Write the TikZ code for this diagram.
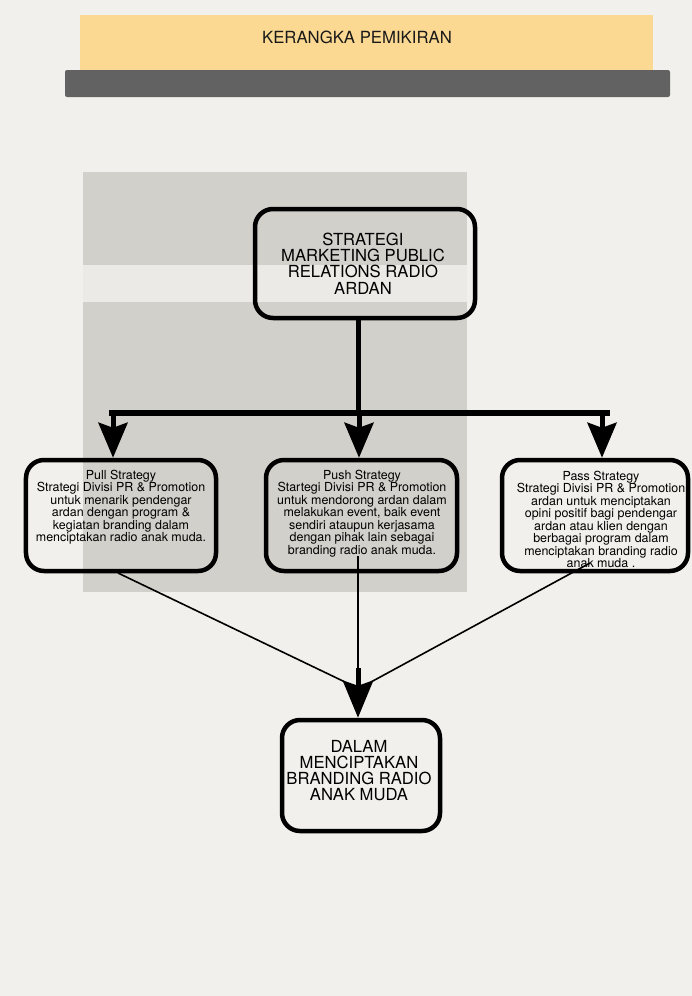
\documentclass[tikz,border=0pt]{standalone}
\usepackage{fontspec}
\setmainfont{TeX Gyre Heros}
\usetikzlibrary{arrows.meta,calc}
\definecolor{pagebg}{HTML}{F1F0EC}
\definecolor{bannerY}{HTML}{FCD993}
\definecolor{barG}{HTML}{626262}
\definecolor{greyR}{HTML}{D2D0CB}
\definecolor{bandC}{HTML}{EBEAE6}
\begin{document}
\begin{tikzpicture}[x=1bp,y=-1bp,
 box/.style={draw=black, line width=4.5bp, rounded corners=18bp, inner sep=0pt},
 txt/.style={align=center, inner sep=0pt, anchor=north, text=black},
 small/.style={font=\fontsize{12.5}{12.5}\selectfont},
 big/.style={font=\fontsize{16.7}{16.2}\selectfont},
 bigarrow/.style={-{Stealth[length=35bp,width=29bp,inset=5bp]}, line width=5bp},
 botarrow/.style={-{Stealth[length=37bp,width=30bp,inset=5bp]}, line width=5bp},
 thinline/.style={line width=1.6bp}
]
\useasboundingbox (0,0) rectangle (692,996);
\fill[pagebg] (0,0) rectangle (692,996);
% header
\fill[bannerY] (80,15) rectangle (653,70);
\fill[barG, rounded corners=2bp] (65,70) rectangle (670,97);
\node[font=\fontsize{16.8}{18}\selectfont, text=black!90, inner sep=0pt] (title) at (357,37) {KERANGKA PEMIKIRAN};
% grey panel
\fill[greyR] (83,172) rectangle (467,592);
\fill[bandC] (83,265) rectangle (467,302);
% boxes
\node[box, minimum width=220bp, minimum height=109bp] (top) at (365,263.5) {};
\node[txt, big] (toptxt) at (363,233) {STRATEGI\\MARKETING PUBLIC\\RELATIONS RADIO\\ARDAN};
\node[box, minimum width=190bp, minimum height=111bp] (left) at (121,515.5) {};
\node[txt, small] (lefttxt) at (121,470)
 {Pull Strategy\\Strategi Divisi PR \& Promotion\\untuk menarik pendengar\\ardan dengan program \&\\kegiatan branding dalam\\menciptakan radio anak muda.};
\node[box, minimum width=191bp, minimum height=111bp] (mid) at (361.5,515.5) {};
\node[txt, small] (midtxt) at (362,470)
 {Push Strategy\\Startegi Divisi PR \& Promotion\\untuk mendorong ardan dalam\\melakukan event, baik event\\sendiri ataupun kerjasama\\dengan pihak lain sebagai\\branding radio anak muda.};
\node[box, minimum width=186bp, minimum height=111bp] (right) at (595,515.5) {};
\node[txt, small] (righttxt) at (601,471)
 {Pass Strategy\\Strategi Divisi PR \& Promotion\\ardan untuk menciptakan\\opini positif bagi pendengar\\ardan atau klien dengan\\berbagai program dalam\\menciptakan branding radio\\anak muda .};
\node[box, minimum width=158bp, minimum height=111bp] (bottom) at (361,775.5) {};
\node[txt, big] (bottomtxt) at (359,740) {DALAM\\MENCIPTAKAN\\BRANDING RADIO\\ANAK MUDA};
% connectors
\coordinate (j) at (358,413);
\coordinate (bl) at (109,413);
\coordinate (br) at (610,413);
\coordinate (la) at (113,413);
\coordinate (ma) at (359,413);
\coordinate (ra) at (602,413);
\draw[line width=5bp] (top.south -| j) -- (j);
\draw[line width=6bp] (bl) -- (br);
\draw[bigarrow] (la) -- (la |- left.north);
\draw[bigarrow] (ma) -- (ma |- mid.north);
\draw[bigarrow] (ra) -- (ra |- right.north);
\coordinate (ms) at (358,556);
\coordinate (rs) at (590,563);
\coordinate (ls) at (118,573);
\coordinate (s1) at (358,668);
\coordinate (cl) at (345,682);
\coordinate (cr) at (371,682);
\draw[thinline] (ls) -- (cl);
\draw[thinline] (rs) -- (cr);
\draw[line width=2bp] (ms) -- (s1);
\draw[botarrow] (s1) -- (s1 |- bottom.north);
\end{tikzpicture}
\end{document}
